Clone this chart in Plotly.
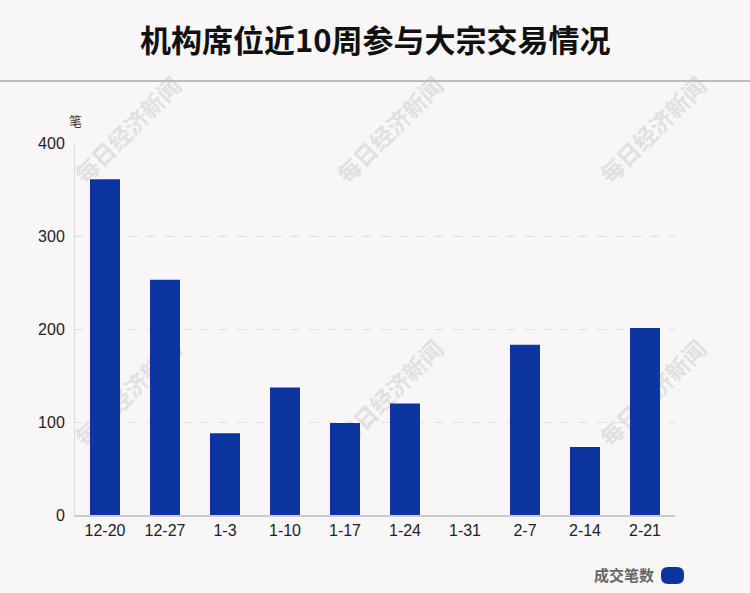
import plotly.graph_objects as go

categories = ["12-20", "12-27", "1-3", "1-10", "1-17", "1-24", "1-31", "2-7", "2-14", "2-21"]
trade_counts = [361, 253, 88, 137, 99, 120, 0, 183, 73, 201]
y_ticks = [0, 100, 200, 300, 400]
title_text = "机构席位近10周参与大宗交易情况"
series_name = "成交笔数"
unit_label = "笔"
watermark = "每日经济新闻"

BG = "#f9f6f7"
BAR = "#0d35a0"

# pixel -> paper helpers (plot area: x 75..675, y 143..515)
def px(x):
    return (x - 75) / 600

def py(y):
    return (515 - y) / 372

fig = go.Figure()
fig.add_trace(go.Bar(
    x=categories, y=trade_counts, name=series_name,
    marker=dict(color=BAR, line=dict(width=0)),
    width=0.5,
))

shapes = []
# watermarks (below traces) via shape labels
for cx in [130, 392, 655]:
    for cy in [132, 395]:
        shapes.append(dict(
            type="rect", xref="paper", yref="paper",
            x0=px(cx - 80), x1=px(cx + 80), y0=py(cy + 80), y1=py(cy - 80),
            line=dict(width=0), fillcolor="rgba(0,0,0,0)", layer="below",
            label=dict(text=watermark, textangle=-45, textposition="middle center",
                       font=dict(size=23, color="#e3e0e1", family="Noto Sans CJK SC", weight="bold")),
        ))
# separator line under title
shapes.append(dict(type="line", xref="paper", yref="paper",
                   x0=px(0), x1=px(750), y0=py(81), y1=py(81),
                   line=dict(color="#bdbbbc", width=2)))
# legend marker (rounded pill)
x0, x1, y0, y1, r = 661, 684, 567, 584, 7
path = (f"M {px(x0 + r)} {py(y0)} L {px(x1 - r)} {py(y0)} "
        f"Q {px(x1)} {py(y0)} {px(x1)} {py(y0 + r)} L {px(x1)} {py(y1 - r)} "
        f"Q {px(x1)} {py(y1)} {px(x1 - r)} {py(y1)} L {px(x0 + r)} {py(y1)} "
        f"Q {px(x0)} {py(y1)} {px(x0)} {py(y1 - r)} L {px(x0)} {py(y0 + r)} "
        f"Q {px(x0)} {py(y0)} {px(x0 + r)} {py(y0)} Z")
shapes.append(dict(type="path", xref="paper", yref="paper", path=path,
                   line=dict(width=0), fillcolor=BAR, layer="above"))

annotations = [
    dict(text=title_text, xref="paper", yref="paper",
         x=0.5, y=py(38), xanchor="center", yanchor="middle", showarrow=False,
         font=dict(size=31, color="#111111", family="Noto Sans CJK SC", weight="bold")),
    dict(text=unit_label, xref="paper", yref="paper",
         x=px(75), y=py(120), xanchor="center", yanchor="middle", showarrow=False,
         font=dict(size=13, color="#333333", family="Noto Sans CJK SC")),
    dict(text=series_name, xref="paper", yref="paper",
         x=px(656), y=py(574), xanchor="right", yanchor="middle", showarrow=False,
         font=dict(size=15, color="#666666", family="Noto Sans CJK SC", weight="bold")),
]

fig.update_layout(
    width=750, height=593,
    margin=dict(l=75, r=75, t=143, b=78),
    paper_bgcolor=BG, plot_bgcolor=BG,
    showlegend=False,
    bargap=0.5,
    shapes=shapes,
    annotations=annotations,
    font=dict(family="Liberation Sans, Arial, sans-serif", color="#222222"),
)
fig.update_xaxes(
    showgrid=False, showline=True, linecolor="#cccccc", linewidth=2,
    ticks="", tickfont=dict(size=16, color="#222222"), ticklabelstandoff=0,
)
fig.update_yaxes(
    range=[0, 400], tickvals=y_ticks, showgrid=True, gridcolor="#e3e0e1", griddash="dash", gridwidth=1,
    showline=True, linecolor="#dddddd", linewidth=1, zeroline=False,
    ticks="", tickfont=dict(size=16, color="#222222"), ticklabelstandoff=6,
)

fig.write_html("out.html", config={"displayModeBar": False},
               post_script="document.body.style.margin='0';document.body.style.background='%s';" % BG)
